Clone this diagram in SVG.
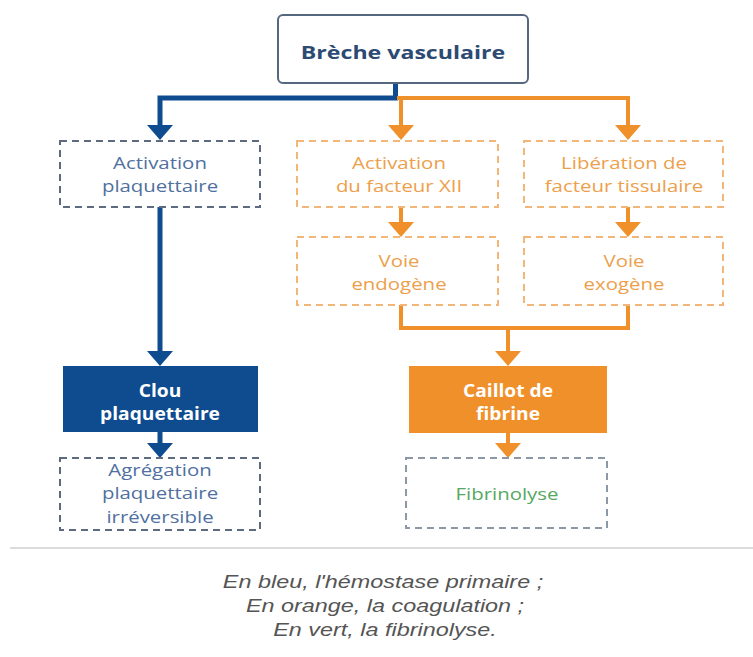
<svg xmlns="http://www.w3.org/2000/svg" width="753" height="657" viewBox="0 0 753 657">
<style>
text{font-family:"Open Sans","Liberation Sans",sans-serif;text-anchor:middle}
.t{font-size:17px}
.bt{fill:#4f70a0}
.ot{fill:#eda04c}
.wt{fill:#ffffff;font-weight:bold;font-size:17px}
.gt{fill:#56a862}
.dash{fill:#ffffff;stroke-width:2;stroke-dasharray:7 5}
.db{stroke:#5d6b7e}
.do{stroke:#f2b679}
.dg{stroke:#8c98a6}
.bl{fill:none;stroke:#0f4c8f;stroke-width:5}
.ol{fill:none;stroke:#f0902a;stroke-width:4}
.cap{font-family:"Liberation Sans",Arial,sans-serif;font-style:italic;font-size:18px;fill:#555555}
</style>
<rect width="753" height="657" fill="#ffffff"/>

<g id="connectors">
<path class="bl" d="M395.5 83 V98 H160 V126"/>
<path class="bl" d="M160 207 V352"/>
<path class="bl" d="M160 432 V444"/>
<path class="ol" d="M397 98 H628 V126"/>
<path class="ol" d="M401 98 V126"/>
<path class="ol" d="M401 207 V223"/>
<path class="ol" d="M628 207 V223"/>
<path class="ol" d="M401 305 V328 H628 V305"/>
<path class="ol" d="M508 328 V352"/>
<path class="ol" d="M508 433 V444"/>
<path d="M147 125 H173 L160 140 Z" fill="#0f4c8f"/>
<path d="M147 351 H173 L160 366 Z" fill="#0f4c8f"/>
<path d="M147 443 H173 L160 458 Z" fill="#0f4c8f"/>
<path d="M388 125 H414 L401 140 Z" fill="#f0902a"/>
<path d="M615 125 H641 L628 140 Z" fill="#f0902a"/>
<path d="M388 222 H414 L401 237 Z" fill="#f0902a"/>
<path d="M615 222 H641 L628 237 Z" fill="#f0902a"/>
<path d="M495 351 H521 L508 366 Z" fill="#f0902a"/>
<path d="M495 443 H521 L508 458 Z" fill="#f0902a"/>
</g>

<g id="breche">
<rect x="278" y="15" width="250" height="68" rx="5" fill="#ffffff" stroke="#55677f" stroke-width="2"/>
<text transform="translate(403 0) scale(1.25 1)" x="0" y="59" font-size="18.5" font-weight="bold" fill="#2c4a72">Brèche vasculaire</text>
</g>

<g id="activation-plaquettaire">
<rect class="dash db" x="60" y="141" width="200" height="66"/>
<text class="t bt" transform="translate(160 0) scale(1.2 1)" x="0" y="169">Activation</text>
<text class="t bt" transform="translate(160 0) scale(1.2 1)" x="0" y="192">plaquettaire</text>
</g>

<g id="activation-xii">
<rect class="dash do" x="297" y="141" width="201" height="66"/>
<text class="t ot" transform="translate(399 0) scale(1.2 1)" x="0" y="169">Activation</text>
<text class="t ot" transform="translate(399 0) scale(1.2 1)" x="0" y="192">du facteur XII</text>
</g>

<g id="liberation-ft">
<rect class="dash do" x="524" y="141" width="199" height="66"/>
<text class="t ot" transform="translate(624 0) scale(1.2 1)" x="0" y="169">Libération de</text>
<text class="t ot" transform="translate(624 0) scale(1.2 1)" x="0" y="192">facteur tissulaire</text>
</g>

<g id="voie-endogene">
<rect class="dash do" x="297" y="237" width="201" height="68"/>
<text class="t ot" transform="translate(399 0) scale(1.2 1)" x="0" y="267">Voie</text>
<text class="t ot" transform="translate(399 0) scale(1.2 1)" x="0" y="290">endogène</text>
</g>

<g id="voie-exogene">
<rect class="dash do" x="524" y="237" width="199" height="68"/>
<text class="t ot" transform="translate(624 0) scale(1.2 1)" x="0" y="267">Voie</text>
<text class="t ot" transform="translate(624 0) scale(1.2 1)" x="0" y="290">exogène</text>
</g>

<g id="clou">
<rect x="63" y="366" width="195" height="66" fill="#0f4c8f"/>
<text class="wt" transform="translate(160 0) scale(1.13 1)" x="0" y="397">Clou</text>
<text class="wt" transform="translate(160 0) scale(1.13 1)" x="0" y="420">plaquettaire</text>
</g>

<g id="caillot">
<rect x="409" y="366" width="198" height="67" fill="#f0902a"/>
<text class="wt" transform="translate(508 0) scale(1.13 1)" x="0" y="397">Caillot de</text>
<text class="wt" transform="translate(508 0) scale(1.13 1)" x="0" y="420">fibrine</text>
</g>

<g id="agregation">
<rect class="dash db" x="60" y="458" width="200" height="72"/>
<text class="t bt" transform="translate(160 0) scale(1.2 1)" x="0" y="476">Agrégation</text>
<text class="t bt" transform="translate(160 0) scale(1.2 1)" x="0" y="499">plaquettaire</text>
<text class="t bt" transform="translate(160 0) scale(1.2 1)" x="0" y="523">irréversible</text>
</g>

<g id="fibrinolyse">
<rect class="dash dg" x="406" y="458" width="201" height="70"/>
<text class="t gt" transform="translate(507 0) scale(1.2 1)" x="0" y="500">Fibrinolyse</text>
</g>

<g id="legend">
<line x1="10" y1="548" x2="753" y2="548" stroke="#dcdcdc" stroke-width="2"/>
<text class="cap" transform="translate(383 0) scale(1.3 1)" x="0" y="588">En bleu, l'hémostase primaire ;</text>
<text class="cap" transform="translate(385 0) scale(1.3 1)" x="0" y="612">En orange, la coagulation ;</text>
<text class="cap" transform="translate(385 0) scale(1.3 1)" x="0" y="636">En vert, la fibrinolyse.</text>
</g>
</svg>
